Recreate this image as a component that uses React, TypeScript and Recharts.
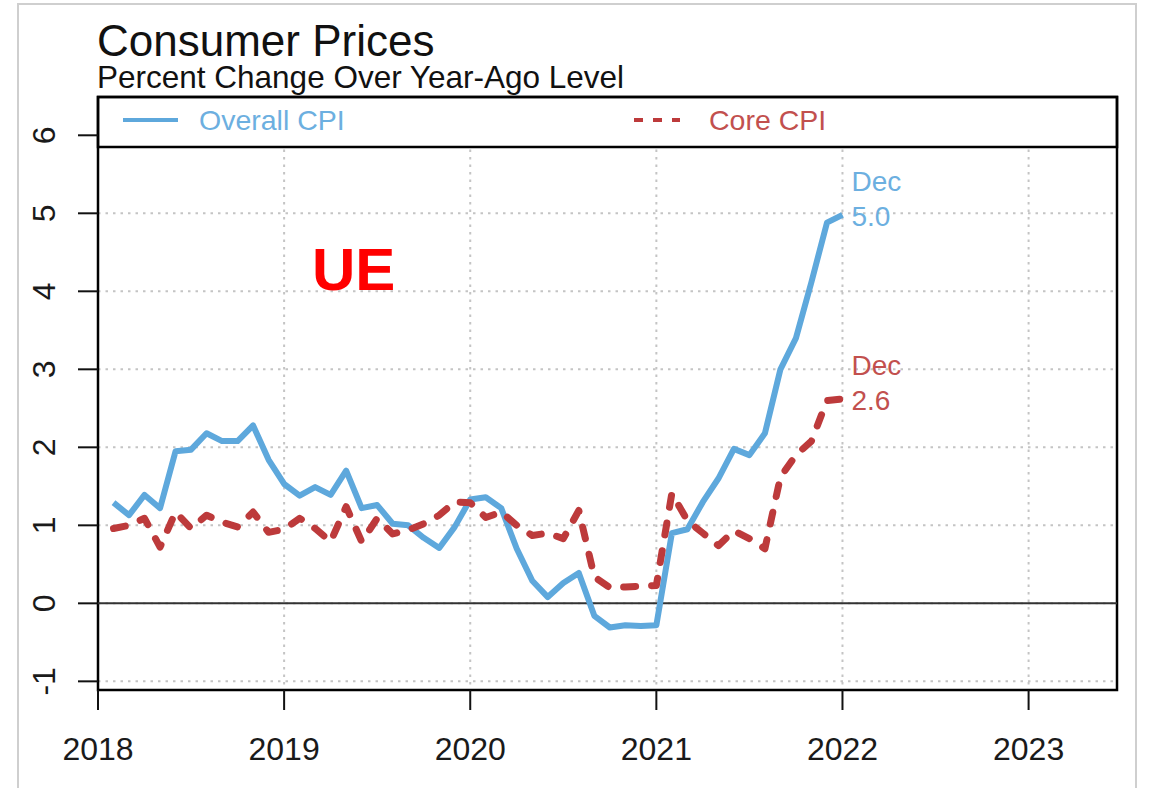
import React from 'react';
import { LineChart, Line, XAxis, YAxis, CartesianGrid, ReferenceArea, ReferenceLine, Legend } from 'recharts';

// monthly observations, year-over-year % change
const periods = [
  '2018-01', '2018-02', '2018-03', '2018-04', '2018-05', '2018-06', '2018-07', '2018-08', '2018-09', '2018-10', '2018-11', '2018-12',
  '2019-01', '2019-02', '2019-03', '2019-04', '2019-05', '2019-06', '2019-07', '2019-08', '2019-09', '2019-10', '2019-11', '2019-12',
  '2020-01', '2020-02', '2020-03', '2020-04', '2020-05', '2020-06', '2020-07', '2020-08', '2020-09', '2020-10', '2020-11', '2020-12',
  '2021-01', '2021-02', '2021-03', '2021-04', '2021-05', '2021-06', '2021-07', '2021-08', '2021-09', '2021-10', '2021-11', '2021-12',
];

const overallCpi = [
  1.29, 1.13, 1.39, 1.22, 1.95, 1.97, 2.18, 2.08, 2.08, 2.28, 1.84, 1.53,
  1.38, 1.49, 1.39, 1.70, 1.22, 1.26, 1.02, 1.0, 0.84, 0.71, 0.98, 1.33,
  1.36, 1.22, 0.7, 0.29, 0.08, 0.26, 0.39, -0.16, -0.31, -0.28, -0.29, -0.28,
  0.9, 0.95, 1.3, 1.6, 1.98, 1.9, 2.18, 3.0, 3.4, 4.12, 4.88, 4.98,
];

const coreCpi = [
  0.96, 1.0, 1.09, 0.72, 1.17, 0.96, 1.13, 1.04, 0.98, 1.17, 0.91, 0.95,
  1.09, 0.96, 0.79, 1.24, 0.79, 1.09, 0.89, 0.94, 1.02, 1.13, 1.3, 1.29,
  1.1, 1.17, 1.0, 0.87, 0.9, 0.83, 1.19, 0.34, 0.2, 0.21, 0.22, 0.23,
  1.41, 1.06, 0.9, 0.74, 0.93, 0.83, 0.7, 1.62, 1.9, 2.08, 2.6, 2.62,
];

const yearTicks = [2018, 2019, 2020, 2021, 2022, 2023];
const valueTicks = [-1, 0, 1, 2, 3, 4, 5, 6];

const BLUE = '#5ea8dc';
const RED = '#bd3a3b';
const BLUE_TEXT = '#6cafe0';
const RED_TEXT = '#c2504e';
const FONT = '"Liberation Sans", Arial, sans-serif';

const X_MAX = 2023.475;
const Y_MIN = -1.111;
const Y_MAX = 6.491;
const LEGEND_FLOOR = 5.85;

const data = periods.map((p, i) => {
  const [yr, mo] = p.split('-').map(Number);
  return { t: yr + mo / 12, overall: overallCpi[i], core: coreCpi[i] };
});

const XTick = (props: any) => {
  const { x, y, payload } = props;
  return (
    <text x={x} y={y + 48} textAnchor="middle" fontSize={32} fontFamily={FONT} fill="#1a1a1a">
      {payload.value}
    </text>
  );
};

const YTick = (props: any) => {
  const { x, y, payload } = props;
  const tx = x - 21;
  return (
    <text
      x={tx}
      y={y}
      textAnchor="middle"
      fontSize={32}
      fontFamily={FONT}
      fill="#1a1a1a"
      transform={`rotate(-90, ${tx}, ${y})`}
    >
      {payload.value}
    </text>
  );
};

const endLabel = (color: string, text: string) => (props: any) => {
  const { x, y, index } = props;
  if (index !== periods.length - 1) return null;
  return (
    <g key="end">
      <text x={x + 9} y={y - 33} dominantBaseline="central" fontSize={28} fontFamily={FONT} fill={color}>
        Dec
      </text>
      <text x={x + 9} y={y + 2} dominantBaseline="central" fontSize={28} fontFamily={FONT} fill={color}>
        {text}
      </text>
    </g>
  );
};

const LegendBox = () => (
  <svg width={1019} height={50} style={{ display: 'block' }}>
    <line x1={25} y1={23} x2={80} y2={23} stroke={BLUE} strokeWidth={4} />
    <text x={101} y={33} fontSize={28.5} fontFamily={FONT} fill={BLUE_TEXT}>Overall CPI</text>
    <line x1={536} y1={23} x2={582} y2={23} stroke={RED} strokeWidth={4} strokeDasharray="9 10" />
    <text x={611} y={33} fontSize={28.5} fontFamily={FONT} fill={RED_TEXT}>Core CPI</text>
  </svg>
);

export default function App() {
  return (
    <div style={{ position: 'absolute', left: 0, top: 0, width: 1151, height: 788, background: '#fff' }}>
      <LineChart width={1151} height={788} data={data} margin={{ top: 97, right: 34, bottom: 38, left: 18 }}>
        <CartesianGrid stroke="#c4c4c4" strokeWidth={2} strokeDasharray="2.5 5" />
        <XAxis
          dataKey="t"
          type="number"
          domain={[2018, X_MAX]}
          ticks={yearTicks}
          allowDataOverflow
          interval={0}
          height={60}
          tickSize={20}
          axisLine={false}
          tickLine={{ stroke: '#111', strokeWidth: 2 }}
          tick={<XTick />}
        />
        <YAxis
          type="number"
          domain={[Y_MIN, Y_MAX]}
          ticks={valueTicks}
          allowDataOverflow
          interval={0}
          width={80}
          tickSize={20}
          axisLine={false}
          tickLine={{ stroke: '#111', strokeWidth: 2 }}
          tick={<YTick />}
        />
        <ReferenceLine y={0} stroke="#333" strokeWidth={2} />
        <ReferenceArea
          x1={2018}
          x2={X_MAX}
          y1={LEGEND_FLOOR}
          y2={Y_MAX}
          fill="#fff"
          fillOpacity={1}
          stroke="#000"
          strokeWidth={2.5}
          ifOverflow="visible"
        />
        <Line
          type="linear"
          dataKey="overall"
          stroke={BLUE}
          strokeWidth={6}
          strokeLinejoin="round"
          dot={false}
          isAnimationActive={false}
          label={endLabel(BLUE_TEXT, '5.0')}
        />
        <Line
          type="linear"
          dataKey="core"
          stroke={RED}
          strokeWidth={7}
          strokeDasharray="12 16"
          strokeLinecap="round"
          strokeLinejoin="round"
          dot={false}
          isAnimationActive={false}
          label={endLabel(RED_TEXT, '2.6')}
        />
        <ReferenceArea
          x1={2018}
          x2={X_MAX}
          y1={Y_MIN}
          y2={Y_MAX}
          fill="none"
          stroke="#000"
          strokeWidth={2.5}
          ifOverflow="visible"
        />
        <Legend
          layout="horizontal"
          verticalAlign="middle"
          align="center"
          wrapperStyle={{ top: 97, left: 98, width: 1019, height: 50 }}
          content={() => <LegendBox />}
        />
      </LineChart>
      <svg
        width={1151}
        height={788}
        style={{ position: 'absolute', left: 0, top: 0, pointerEvents: 'none' }}
      >
        <rect x={18} y={4} width={1118} height={800} fill="none" stroke="#cfcfcf" strokeWidth={2} />
        <text x={97} y={56} fontSize={44} fontFamily={FONT} fill="#111">Consumer Prices</text>
        <text x={97} y={88} fontSize={31.5} fontFamily={FONT} fill="#111">Percent Change Over Year-Ago Level</text>
        <text x={312} y={290} fontSize={60} fontWeight="bold" fontFamily={FONT} fill="#ff0000">UE</text>
      </svg>
    </div>
  );
}
